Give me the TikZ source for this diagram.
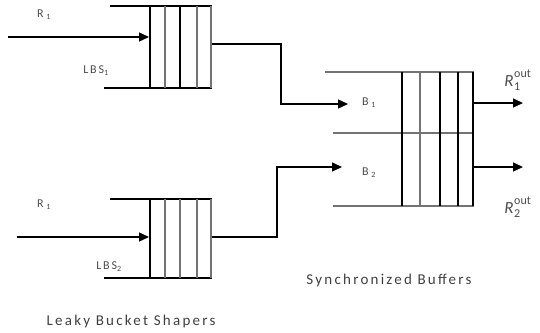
\documentclass[tikz,border=0pt]{standalone}
\usepackage{fontspec}
\setmainfont{Carlito}
\usetikzlibrary{arrows.meta}
\tikzset{
  wire/.style={line width=1.3pt, black},
  thin wire/.style={line width=1.3pt, black!55},
  flow/.style={line width=1.3pt, black, -{Triangle[length=10pt,width=9pt]}},
  lbl/.style={inner sep=0pt, font=\fontsize{12}{13}\selectfont\addfontfeatures{LetterSpace=15}, text=black!70},
  caption text/.style={inner sep=0pt, font=\fontsize{15}{16}\selectfont\addfontfeatures{LetterSpace=15}, text=black!75},
  outl/.style={inner sep=0pt, font=\fontsize{17}{18}\selectfont\itshape, text=black!70},
  outs/.style={inner sep=0pt, anchor=west, font=\fontsize{12}{13}\selectfont, text=black!70}
}
\begin{document}
\begin{tikzpicture}[x=1pt,y=-1pt]
\useasboundingbox (0,0) rectangle (540,332);
% ---- top leaky bucket
\coordinate (q1tl) at (110,6);
\coordinate (q1tr) at (212,6);
\coordinate (q1bl) at (104,88);
\coordinate (q1br) at (212,88);
\draw[wire] (q1tl) -- (q1tr);
\draw[wire] (q1bl) -- (q1br);
\foreach \x/\c in {150/black,165/black!55,180/black,197/black!55,211/black!55}
  \draw[line width=1.3pt,\c] (\x,6) -- (\x,88);
\coordinate (in1) at (8,37);
\coordinate (q1in) at (149,37);
\draw[flow] (in1) -- (q1in);
\node[lbl] (r1a) at (44,15) {R\textsubscript{\,\,1}};
\node[lbl] (lbs1) at (96,71) {LBS\textsubscript{1}};
% ---- bottom leaky bucket
\coordinate (q2tl) at (110,199);
\coordinate (q2tr) at (212,199);
\coordinate (q2bl) at (104,278);
\coordinate (q2br) at (212,278);
\draw[wire] (q2tl) -- (q2tr);
\draw[wire] (q2bl) -- (q2br);
\foreach \x/\c in {150/black,165/black!55,180/black!55,197/black!55,211/black!55}
  \draw[line width=1.3pt,\c] (\x,199) -- (\x,278);
\coordinate (in2) at (17,237);
\coordinate (q2in) at (149,237);
\draw[flow] (in2) -- (q2in);
\node[lbl] (r1b) at (44,205) {R\textsubscript{\,\,1}};
\node[lbl] (lbs2) at (109,267) {LBS\textsubscript{2}};
\node[caption text] (lbsname) at (131,321) {Leaky Bucket Shapers};
% ---- synchronized buffers
\coordinate (stl) at (325,72);
\coordinate (str) at (474,72);
\coordinate (sml) at (333,133);
\coordinate (smr) at (472,133);
\coordinate (sbl) at (333,206);
\coordinate (sbr) at (474,206);
\draw[thin wire] (stl) -- (str);
\draw[thin wire] (sml) -- (smr);
\draw[thin wire] (sbl) -- (sbr);
\foreach \x/\c in {402/black,420/black!55,440/black,458/black,473/black}
  \draw[line width=1.3pt,\c] (\x,72) -- (\x,206);
\coordinate (b1in) at (348,104);
\coordinate (b2in) at (342,167);
\coordinate (q1out) at (212,44);
\coordinate (q2out) at (212,237);
\draw[flow] (q1out) -- (281,44) -- (281,104) -- (b1in);
\draw[flow] (q2out) -- (277,237) -- (277,167) -- (b2in);
\node[lbl] (b1) at (369,103) {B\textsubscript{\,\,1}};
\node[lbl] (b2) at (369,173) {B\textsubscript{\,\,2}};
\coordinate (o1s) at (473,103);
\coordinate (o1e) at (523,103);
\coordinate (o2s) at (473,167);
\coordinate (o2e) at (523,167);
\draw[flow] (o1s) -- (o1e);
\draw[flow] (o2s) -- (o2e);
\node[outl] (r1out) at (509,81) {R};
\node[outs] (r1sup) at (514,74) {out};
\node[outs] (r1sub) at (514,87) {1};
\node[outl] (r2out) at (509,208) {R};
\node[outs] (r2sup) at (514,201) {out};
\node[outs] (r2sub) at (514,214) {2};
\node[caption text] (sbname) at (389,280) {Synchronized Buffers};
\end{tikzpicture}
\end{document}
